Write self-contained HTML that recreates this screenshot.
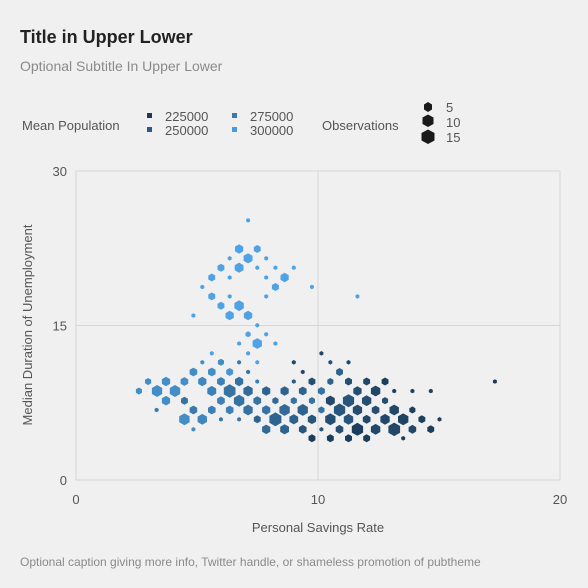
<!DOCTYPE html>
<html><head><meta charset="utf-8"><style>
body{margin:0;background:#f0f0f0;font-family:"Liberation Sans",Arial,sans-serif;}
svg{display:block}
</style></head><body>
<svg id="chart" width="588" height="588" font-family="Liberation Sans, Arial, sans-serif">
<rect width="588" height="588" fill="#f0f0f0"/>
<text x="20" y="43" font-size="18" font-weight="bold" fill="#222">Title in Upper Lower</text>
<text x="20" y="71" font-size="14" fill="#8a8a8a">Optional Subtitle In Upper Lower</text>
<g>
<text x="22" y="130" font-size="13" fill="#555">Mean Population</text>
<rect x="147" y="113" width="5" height="5" fill="#1b3a5a"/>
<text x="165" y="121" font-size="13" fill="#555">225000</text>
<rect x="147" y="127" width="5" height="5" fill="#2a5a86"/>
<text x="165" y="135" font-size="13" fill="#555">250000</text>
<rect x="232" y="113" width="5" height="5" fill="#3a7ab3"/>
<text x="250" y="121" font-size="13" fill="#555">275000</text>
<rect x="232" y="127" width="5" height="5" fill="#4a9bdc"/>
<text x="250" y="135" font-size="13" fill="#555">300000</text>
</g>
<g>
<text x="322" y="130" font-size="13" fill="#555">Observations</text>
<polygon points="428,102 432,104.5 432,109.5 428,112 424,109.5 424,104.5" fill="#1a1a1a"/>
<text x="446" y="112" font-size="13" fill="#555">5</text>
<polygon points="428,114.5 433.5,117.5 433.5,124 428,127 422.5,124 422.5,117.5" fill="#1a1a1a"/>
<text x="446" y="127" font-size="13" fill="#555">10</text>
<polygon points="428,129.5 434.5,133 434.5,140.5 428,144 421.5,140.5 421.5,133" fill="#1a1a1a"/>
<text x="446" y="142" font-size="13" fill="#555">15</text>
</g>
<g id="plot"></g>
<text x="318" y="532" font-size="13" fill="#555" text-anchor="middle">Personal Savings Rate</text>
<text transform="translate(32,325) rotate(-90)" font-size="13" fill="#555" text-anchor="middle">Median Duration of Unemployment</text>
<text x="20" y="566" font-size="12" fill="#8a8a8a">Optional caption giving more info, Twitter handle, or shameless promotion of pubtheme</text>
</svg>
<script>
const xTicks=[0,10,20];
const yTicks=[0,15,30];
const binX=[7.11,6.74,7.49,6.35,7.11,7.86,5.99,6.74,7.49,8.24,9.00,5.61,6.35,7.86,8.62,5.22,8.24,9.75,5.61,6.35,7.86,11.63,5.99,6.74,4.85,6.35,7.11,7.49,7.11,7.86,6.74,7.49,8.24,5.61,7.11,
5.22,5.99,6.74,7.49,9.00,10.14,10.51,11.26,
4.85,5.61,6.35,7.11,9.37,10.89,
2.98,3.72,4.48,5.22,5.99,6.74,7.49,9.00,9.75,10.51,11.26,12.01,12.77,17.31,
2.60,3.35,4.09,5.61,6.35,7.11,7.86,8.62,9.37,10.14,11.63,12.38,13.15,13.90,14.66,
3.72,4.48,5.99,6.74,7.49,8.24,9.00,9.75,10.51,11.26,12.01,12.77,
3.33,4.85,5.61,6.35,7.11,7.86,8.62,9.37,10.14,10.89,11.63,12.38,13.15,13.90,
4.48,5.22,5.99,6.74,7.49,8.24,9.00,9.75,10.51,11.26,12.01,12.77,13.52,14.29,15.02,
4.85,7.86,8.62,9.37,10.14,10.89,11.63,12.38,13.15,13.90,14.66,
9.75,10.51,11.26,12.01,13.52];
const binY=[25.21,22.43,22.43,21.52,21.52,21.52,20.61,20.61,20.61,20.61,20.61,19.66,19.66,19.66,19.66,18.74,18.74,18.74,17.83,17.83,17.83,17.83,16.92,16.92,15.97,15.97,15.97,15.02,14.15,14.15,13.25,13.25,13.25,12.30,12.30,
11.43,11.43,11.43,11.43,11.43,12.30,11.43,11.43,
10.49,10.49,10.49,10.49,10.49,10.49,
9.56,9.56,9.56,9.56,9.56,9.56,9.56,9.56,9.56,9.56,9.56,9.56,9.56,9.56,
8.64,8.64,8.64,8.64,8.64,8.64,8.64,8.64,8.64,8.64,8.64,8.64,8.64,8.64,8.64,
7.70,7.70,7.70,7.70,7.70,7.70,7.70,7.70,7.70,7.70,7.70,7.70,
6.80,6.80,6.80,6.80,6.80,6.80,6.80,6.80,6.80,6.80,6.80,6.80,6.80,6.80,
5.89,5.89,5.89,5.89,5.89,5.89,5.89,5.89,5.89,5.89,5.89,5.89,5.89,5.89,5.89,
4.92,4.92,4.92,4.92,4.92,4.92,4.92,4.92,4.92,4.92,4.92,
4.05,4.05,4.05,4.05,4.05];
const binCount=[1,6,4,1,7,1,4,7,1,1,1,4,1,1,6,1,4,1,4,1,1,1,4,8,1,6,6,1,2,1,1,8,1,1,1,
1,3,1,1,1,1,1,1,
5,5,4,1,1,4,
3,6,5,6,5,6,1,1,4,3,4,4,4,1,
3,10,10,7,13,8,6,6,5,4,6,8,1,1,1,
6,4,5,10,5,3,3,3,7,12,8,3,
1,5,5,5,8,6,10,10,3,12,8,5,8,3,
10,8,1,1,4,14,7,6,10,8,5,8,10,4,1,
1,6,7,5,1,5,12,8,13,5,4,
4,4,4,4,1];
const binPop=[300000,300000,300000,300000,300000,300000,300000,300000,300000,300000,300000,300000,300000,300000,300000,300000,300000,300000,300000,300000,300000,300000,300000,300000,300000,300000,300000,300000,300000,300000,300000,300000,300000,300000,300000,
285000,285000,270000,300000,235000,235000,240000,235000,
285000,285000,290000,265000,235000,255000,
285000,285000,285000,280000,275000,265000,275000,250000,240000,255000,240000,235000,230000,228000,
285000,285000,285000,275000,265000,260000,255000,255000,255000,265000,240000,235000,230000,230000,230000,
285000,265000,275000,265000,265000,260000,265000,265000,235000,245000,240000,240000,
270000,270000,275000,275000,265000,265000,260000,255000,265000,245000,240000,240000,235000,230000,
285000,280000,270000,270000,255000,255000,255000,245000,240000,245000,235000,235000,232000,230000,230000,
285000,260000,255000,245000,245000,240000,228000,235000,235000,235000,228000,
228000,228000,228000,228000,228000];

const X0=76,X1=560,Y0=480,Y1=171;
const xs=v=>X0+(v-0)/(20-0)*(X1-X0);
const ys=v=>Y0-(v-0)/(30-0)*(Y0-Y1);
const NS="http://www.w3.org/2000/svg";
const plot=document.getElementById('plot');
function mk(tag,attrs){const e=document.createElementNS(NS,tag);for(const k in attrs)e.setAttribute(k,attrs[k]);return e;}
const frame=mk('rect',{x:X0,y:Y1,width:X1-X0,height:Y0-Y1,fill:'none',stroke:'#d6d6d6','stroke-width':1});


plot.appendChild(frame);
xTicks.forEach(t=>{
  const l=mk('line',{x1:xs(t),x2:xs(t),y1:Y1,y2:Y0,stroke:'#d6d6d6','stroke-width':1});
  
  
  plot.appendChild(l);
  const tx=mk('text',{x:xs(t),y:Y0+24,'font-size':13,fill:'#555','text-anchor':'middle'});
  tx.textContent=t;
  
  
  plot.appendChild(tx);
});
yTicks.forEach(t=>{
  const l=mk('line',{x1:X0,x2:X1,y1:ys(t),y2:ys(t),stroke:'#d6d6d6','stroke-width':1});
  
  
  plot.appendChild(l);
  const tx=mk('text',{x:X0-9,y:ys(t)+5,'font-size':13,fill:'#555','text-anchor':'end'});
  tx.textContent=t;
  
  
  plot.appendChild(tx);
});
function col(p){
  let f=(p-215000)/(310000-215000);f=Math.max(0,Math.min(1,f));
  const a=[19,43,67],b=[86,177,247];
  return 'rgb('+a.map((v,i)=>Math.round(v+(b[i]-v)*f)).join(',')+')';
}
binX.forEach((x,i)=>{
  const cx=xs(x),cy=ys(binY[i]);const r=1.7*Math.sqrt(binCount[i])+0.6;
  const pts=[];for(let k=0;k<6;k++){const a=Math.PI/3*k-Math.PI/2;pts.push((cx+r*Math.cos(a)).toFixed(1)+','+(cy+r*Math.sin(a)).toFixed(1));}
  const h=mk('polygon',{points:pts.join(' '),fill:col(binPop[i])});
  
  
  plot.appendChild(h);
});
</script>
</body></html>
